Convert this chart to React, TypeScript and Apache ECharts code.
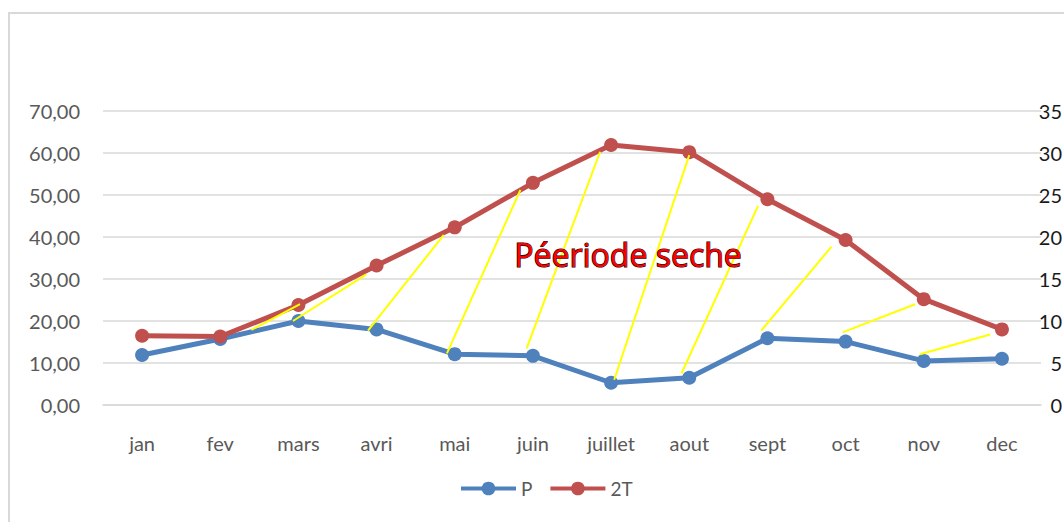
import React, { useEffect, useRef } from "react";
import * as echarts from "echarts";

const months = ["jan", "fev", "mars", "avri", "mai", "juin", "juillet", "aout", "sept", "oct", "nov", "dec"];
const precip = [11.9, 15.7, 20.0, 18.0, 12.1, 11.7, 5.3, 6.5, 15.9, 15.1, 10.5, 11.0];
const twoT = [16.5, 16.3, 23.8, 33.2, 42.3, 52.9, 61.9, 60.2, 49.0, 39.3, 25.2, 18.0];
const leftTicks = { min: 0, max: 70, interval: 10 };
const rightTicks = { min: 0, max: 35, interval: 5 };
// hatch lines of the dry period: [monthIndexStart, valueStart, monthIndexEnd, valueEnd]
const hatchLines = [
  [1.4, 17.9, 2.02, 24.0],
  [1.93, 20.0, 2.87, 31.1],
  [2.89, 17.7, 3.86, 40.5],
  [3.9, 12.3, 4.84, 51.2],
  [4.92, 13.5, 5.86, 60.3],
  [6.04, 6.0, 7.0, 59.5],
  [6.9, 7.5, 7.88, 47.4],
  [7.92, 17.7, 8.82, 37.7],
  [8.96, 17.3, 9.89, 24.0],
  [9.95, 12.1, 10.85, 16.8],
];
const annotation = "Péeriode seche";

export default function App() {
  const ref = useRef<HTMLDivElement>(null);
  useEffect(() => {
    document.body.style.margin = "0";
    const chart = echarts.init(ref.current!, null, { renderer: "svg" });
    const font = "Lato";
    chart.setOption({
      animation: false,
      backgroundColor: "#ffffff",
      textStyle: { fontFamily: font },
      grid: { left: 103, right: 23, top: 111, bottom: 117, containLabel: false, outerBoundsMode: "none" },
      legend: {
        data: ["P", "2T"],
        bottom: 19,
        left: 454,
        itemWidth: 55,
        itemHeight: 17,
        itemGap: 16,
        lineStyle: { width: 4 },
        textStyle: { color: "#595959", fontSize: 19, fontFamily: font },
      },
      xAxis: [
        {
          type: "category",
          data: months,
          boundaryGap: true,
          axisLine: { show: true, lineStyle: { color: "#d9d9d9", width: 1.5 } },
          axisTick: { show: false },
          axisLabel: { color: "#595959", fontSize: 20, margin: 28, fontFamily: font },
        },
        { type: "value", min: -0.5, max: 11.5, show: false },
      ],
      yAxis: [
        {
          type: "value",
          ...leftTicks,
          axisLine: { show: false },
          axisTick: { show: false },
          splitLine: { lineStyle: { color: "#d9d9d9", width: 1.5 } },
          axisLabel: {
            color: "#595959",
            fontSize: 20,
            margin: 23,
            fontFamily: font,
            formatter: (v: number) => v.toFixed(2).replace(".", ","),
          },
        },
        {
          type: "value",
          position: "right",
          ...rightTicks,
          axisLine: { show: false },
          axisTick: { show: false },
          splitLine: { show: false },
          axisLabel: {
            color: "#1a1a1a",
            fontSize: 20,
            margin: 21,
            align: "right",
            fontFamily: font,
            formatter: (v: number) => String(v),
          },
        },
      ],
      series: [
        {
          name: "P",
          type: "line",
          data: precip,
          yAxisIndex: 0,
          symbol: "circle",
          symbolSize: 14,
          lineStyle: { color: "#4f81bd", width: 5 },
          itemStyle: { color: "#4f81bd" },
          z: 3,
        },
        {
          name: "2T",
          type: "line",
          data: twoT,
          yAxisIndex: 0,
          symbol: "circle",
          symbolSize: 14,
          lineStyle: { color: "#c0504d", width: 5 },
          itemStyle: { color: "#c0504d" },
          z: 3,
        },
        {
          name: "hatch",
          type: "custom",
          xAxisIndex: 1,
          yAxisIndex: 0,
          z: 5,
          silent: true,
          encode: { x: [0, 2], y: [1, 3] },
          data: hatchLines,
          renderItem: (_params: any, api: any) => {
            const p1 = api.coord([api.value(0), api.value(1)]);
            const p2 = api.coord([api.value(2), api.value(3)]);
            return {
              type: "line",
              shape: { x1: p1[0], y1: p1[1], x2: p2[0], y2: p2[1] },
              style: { stroke: "#ffff00", lineWidth: 2 },
            };
          },
        },
      ],
      graphic: [
        {
          type: "rect",
          shape: { x: 9, y: 13, width: 1200, height: 700 },
          style: { fill: "none", stroke: "#d9d9d9", lineWidth: 2 },
          silent: true,
          z: 0,
        },
        {
          type: "text",
          x: 628,
          y: 254,
          z: 10,
          style: {
            text: annotation,
            font: `32px "Open Sans"`,
            fill: "#ff0000",
            stroke: "#000000",
            lineWidth: 1.2,
            align: "center",
            verticalAlign: "middle",
          },
        },
      ],
    });
    return () => chart.dispose();
  }, []);
  return <div ref={ref} style={{ width: 1064, height: 522 }} />;
}
